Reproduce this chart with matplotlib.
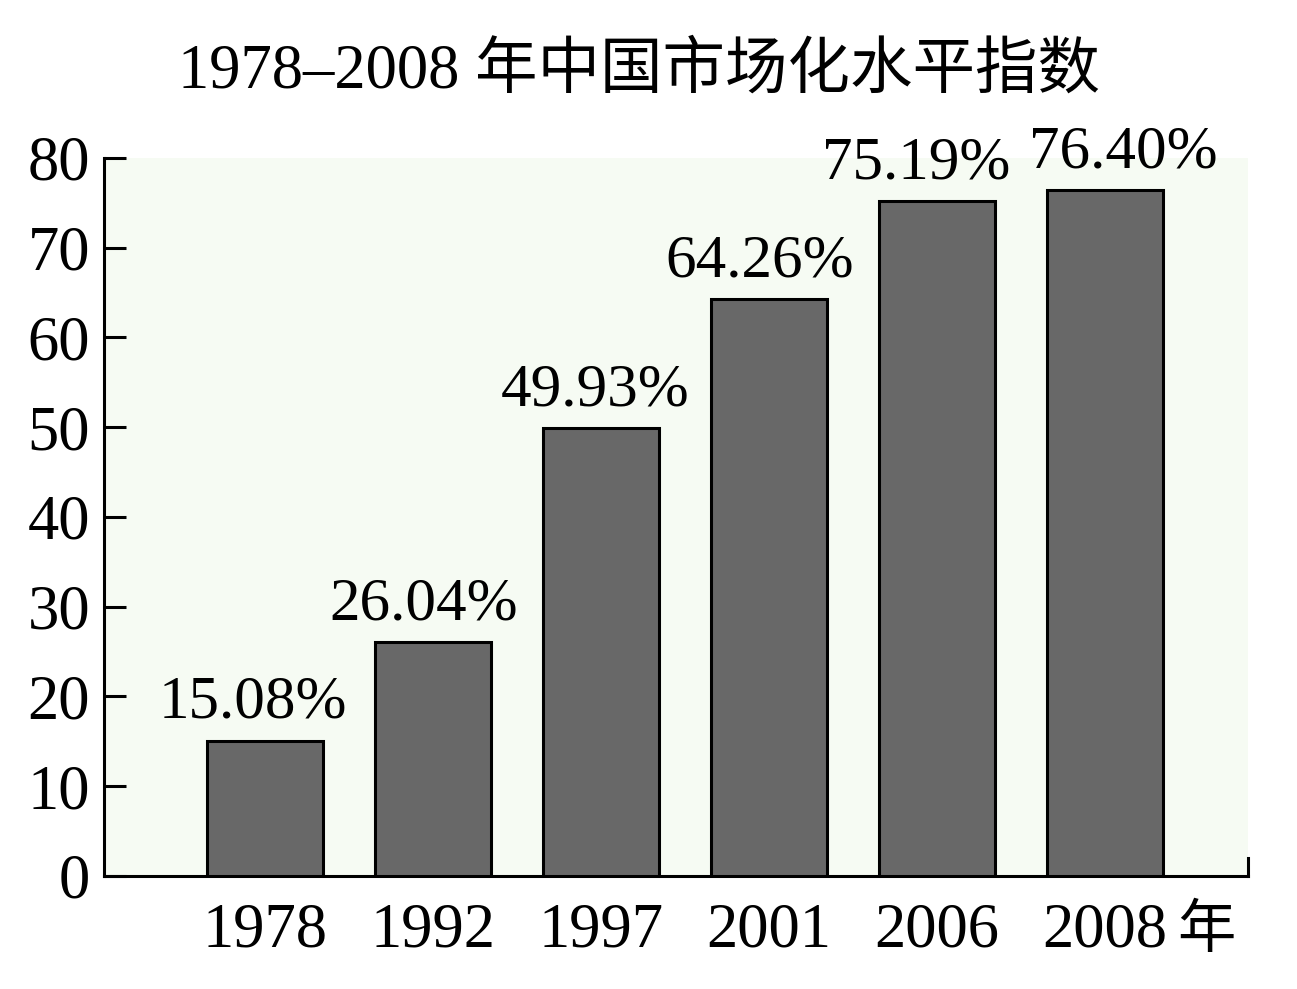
import matplotlib
matplotlib.use("Agg")
import matplotlib.pyplot as plt
import numpy as np

plt.rcParams['font.family'] = ['Liberation Serif', 'Noto Sans CJK SC']

years = ['1978', '1992', '1997', '2001', '2006', '2008']
values = [15.08, 26.04, 49.93, 64.26, 75.19, 76.40]
labels = ['15.08%', '26.04%', '49.93%', '64.26%', '75.19%', '76.40%']
yticks = [0, 10, 20, 30, 40, 50, 60, 70, 80]

# small horizontal nudges (points) so the value labels sit like the original
label_dx = [-9, -7, -4, -7, -15, 13]

fig = plt.figure(figsize=(12.97, 9.89), dpi=100)
ax = fig.add_axes([0.0802, 0.1143, 0.882, 0.7260])
ax.set_facecolor('#f6fbf3')

x = np.arange(len(years))
bars = ax.bar(x, values, width=0.69, color='#686868', edgecolor='black', linewidth=2.2, zorder=3)

for rect, lab, dx in zip(bars, labels, label_dx):
    ax.annotate(lab, xy=(rect.get_x() + rect.get_width() / 2, rect.get_height()),
                xytext=(dx, 7), textcoords='offset points', ha='center', va='bottom',
                fontsize=44, annotation_clip=False)

ax.set_xlim(-0.958, 5.851)
ax.set_ylim(0, 80)
ax.set_yticks(yticks)
ax.set_xticks(x)
ax.set_xticklabels(years)
ax.tick_params(axis='y', direction='in', length=16, width=2.2, labelsize=45, pad=10)
ax.tick_params(axis='x', length=0, labelsize=45, pad=19)

ax.spines['top'].set_visible(False)
for s in ['left', 'bottom', 'right']:
    ax.spines[s].set_linewidth(2.2)
ax.spines['right'].set_bounds(0, 2)

ax.text(5.43, -2.7, '年', ha='left', va='top', fontsize=42,
        family=['Noto Sans CJK SC'], clip_on=False)

fig.text(0.493, 0.927, '1978–2008 年中国市场化水平指数', ha='center', va='center', fontsize=45)

fig.savefig('out.png', dpi=100, facecolor='white')
